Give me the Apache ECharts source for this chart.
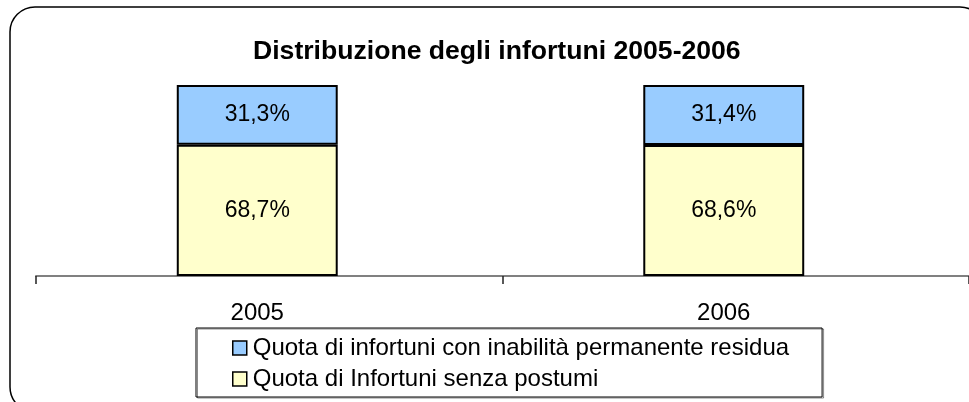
<!DOCTYPE html>
<html lang="it">
<head>
<meta charset="UTF-8">
<title>Distribuzione degli infortuni 2005-2006</title>
<script src="https://cdn.jsdelivr.net/npm/echarts@6/dist/echarts.min.js"></script>
<style>
html, body { margin: 0; padding: 0; background: #fff; }
#chart { width: 969px; height: 402px; }
</style>
</head>
<body>
<div id="chart"></div>
<script>
// dati
const years = ['2005', '2006'];
const senzaPostumi = [68.7, 68.6];
const inabilita = [31.3, 31.4];
const seriesNames = [
    'Quota di Infortuni senza postumi',
    'Quota di infortuni con inabilità permanente residua'
];

const font = 'Liberation Sans, Arial, sans-serif';
const fmt = p => p.value.toFixed(1).replace('.', ',') + '%';

const chart = echarts.init(document.getElementById('chart'));

const barLabel = {
    show: true,
    position: 'inside',
    color: '#000',
    fontSize: 23,
    fontFamily: font,
    formatter: fmt
};

chart.setOption({
    backgroundColor: '#fff',
    animation: false,
    title: {
        text: 'Distribuzione degli infortuni 2005-2006',
        left: 253,
        top: 38,
        padding: 0,
        textStyle: { fontSize: 26.6, fontWeight: 'bold', color: '#000', fontFamily: font }
    },
    graphic: [{
        type: 'rect',
        z: -1,
        shape: { x: 10, y: 7, width: 975, height: 405, r: 25 },
        style: { fill: 'none', stroke: '#000', lineWidth: 1.5 }
    }],
    legend: {
        orient: 'vertical',
        left: 196,
        top: 328,
        data: [seriesNames[1], seriesNames[0]],
        icon: 'rect',
        itemWidth: 14,
        itemHeight: 14,
        itemGap: 7,
        padding: [8, 33, 6, 36],
        borderColor: '#000',
        borderWidth: 1,
        shadowColor: 'rgba(0,0,0,0.45)',
        shadowOffsetX: 1.5,
        shadowOffsetY: 1,
        itemStyle: { borderColor: '#000', borderWidth: 1.5 },
        textStyle: { fontSize: 24, lineHeight: 24, color: '#000', fontFamily: font, padding: [0, 0, 0, 1] }
    },
    grid: [
        { left: 24, right: 12, top: 85, bottom: 126 },
        { left: 36, right: -12, top: 85, bottom: 126 }
    ],
    xAxis: [{
        type: 'category',
        gridIndex: 0,
        data: years,
        axisLine: { show: false },
        axisTick: { show: false },
        axisLabel: { color: '#000', fontSize: 24, fontFamily: font, margin: 25 }
    }, {
        type: 'category',
        gridIndex: 1,
        data: years,
        axisLine: { show: true, lineStyle: { color: '#808080', width: 2 } },
        axisTick: { show: true, length: 8, lineStyle: { color: '#222', width: 1.5 } },
        axisLabel: { show: false }
    }],
    yAxis: [
        { type: 'value', gridIndex: 0, min: 0, max: 100, show: false },
        { type: 'value', gridIndex: 1, min: 0, max: 100, show: false }
    ],
    series: [{
        name: seriesNames[0],
        type: 'bar',
        stack: 'tot',
        data: senzaPostumi,
        barWidth: '34.5%',
        itemStyle: { color: '#FFFFCC', borderColor: '#000', borderWidth: 2 },
        label: barLabel
    }, {
        name: seriesNames[1],
        type: 'bar',
        stack: 'tot',
        data: inabilita,
        barWidth: '34.5%',
        itemStyle: { color: '#99CCFF', borderColor: '#000', borderWidth: 2 },
        label: barLabel
    }]
});
</script>
</body>
</html>
